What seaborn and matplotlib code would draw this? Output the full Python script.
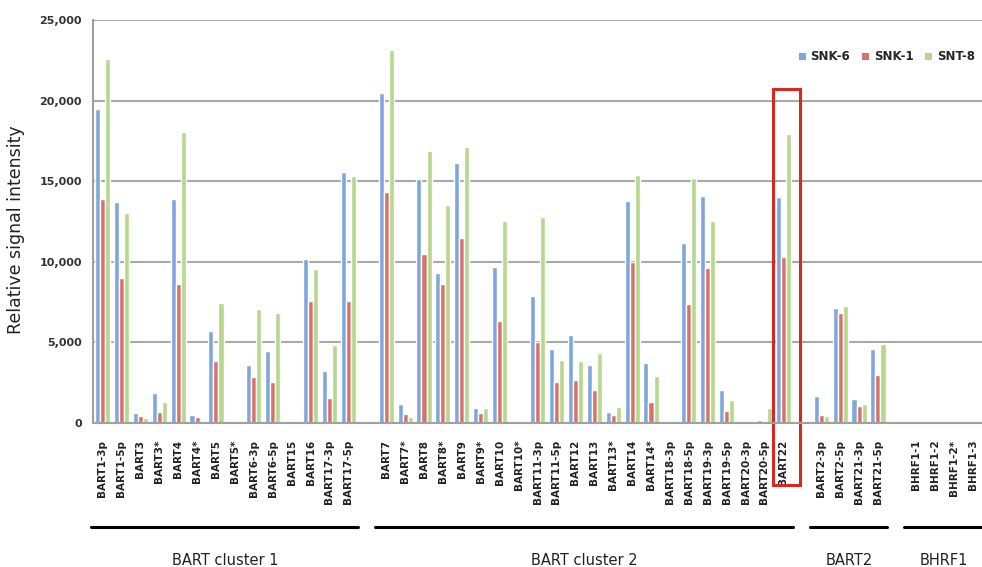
import matplotlib
matplotlib.use('Agg')
import matplotlib.pyplot as plt
import matplotlib.transforms as mtransforms
from matplotlib.patches import Rectangle, Patch
from matplotlib.lines import Line2D
from matplotlib.ticker import FuncFormatter
import seaborn as sns
import pandas as pd
import numpy as np

# miRNA names per group
cluster1 = ['BART1-3p', 'BART1-5p', 'BART3', 'BART3*', 'BART4', 'BART4*', 'BART5',
            'BART5*', 'BART6-3p', 'BART6-5p', 'BART15', 'BART16', 'BART17-3p', 'BART17-5p']
cluster2 = ['BART7', 'BART7*', 'BART8', 'BART8*', 'BART9', 'BART9*', 'BART10', 'BART10*',
            'BART11-3p', 'BART11-5p', 'BART12', 'BART13', 'BART13*', 'BART14', 'BART14*',
            'BART18-3p', 'BART18-5p', 'BART19-3p', 'BART19-5p', 'BART20-3p', 'BART20-5p', 'BART22']
bart2 = ['BART2-3p', 'BART2-5p', 'BART21-3p', 'BART21-5p']
bhrf1 = ['BHRF1-1', 'BHRF1-2', 'BHRF1-2*', 'BHRF1-3']

group_names = ['BART cluster 1', 'BART cluster 2', 'BART2', 'BHRF1']
lines = ['SNK-6', 'SNK-1', 'SNT-8']

# values (cluster1 + cluster2 + bart2 + bhrf1)
snk6 = [19500, 13700, 600, 1850, 13900, 500, 5700, 30, 3600, 4450, 100, 10150, 3250, 15600,
        20450, 1200, 15150, 9300, 16100, 950, 9700, 30, 7850, 4600, 5450, 3600, 700, 13800,
        3700, 30, 11150, 14100, 2050, 30, 200, 14000,
        1650, 7150, 1500, 4600,
        0, 0, 0, 0]
snk1 = [13900, 9000, 420, 700, 8600, 350, 3850, 20, 2850, 2550, 80, 7550, 1550, 7550,
        14350, 580, 10500, 8600, 11500, 600, 6300, 20, 5000, 2550, 2650, 2050, 480, 10000,
        1300, 20, 7400, 9600, 750, 20, 120, 10300,
        480, 6850, 1050, 3000,
        0, 0, 0, 0]
snt8 = [22600, 13050, 300, 1300, 18050, 150, 7450, 40, 7050, 6800, 120, 9550, 4850, 15350,
        23150, 370, 16900, 13500, 17150, 900, 12500, 40, 12800, 3900, 3850, 4350, 1000, 15400,
        2900, 40, 15200, 12500, 1450, 40, 950, 17950,
        450, 7250, 1200, 4900,
        0, 0, 0, 0]

colors = ['#7fa7dd', '#d9716a', '#b7d88c']

names = cluster1 + cluster2 + bart2 + bhrf1
df = pd.DataFrame({
    'miRNA': names * 3,
    'signal': snk6 + snk1 + snt8,
    'line': [l for l in lines for _ in names],
})

# empty slots between the groups
groups = [cluster1, cluster2, bart2, bhrf1]
order = []
for i, g in enumerate(groups):
    if i > 0:
        order.append(' ' * i)
    order.extend(g)

sns.set_style('white')
plt.rcParams['font.family'] = ['DejaVu Sans']

fig = plt.figure(figsize=(9.82, 5.67), dpi=100)
ax = fig.add_axes([93 / 982, 144 / 567, 889 / 982, 403 / 567])

sns.barplot(data=df, x='miRNA', y='signal', hue='line', order=order, hue_order=lines,
            palette=colors, width=0.8, saturation=1, errorbar=None, ax=ax)

ax.set_xlim(-0.5, len(order) - 0.5)
ax.set_ylim(0, 25000)
ax.set_yticks(np.arange(0, 25001, 5000))
ax.yaxis.set_major_formatter(FuncFormatter(lambda v, p: f'{int(v):,}'))
for t in ax.get_yticklabels():
    t.set_fontweight('bold')
ax.tick_params(axis='y', labelsize=8, colors='#333333', length=4, width=1, pad=4)
ax.tick_params(axis='y', color='#a0a0a0')
ax.yaxis.grid(True, color='#a9a9a9', lw=1.5)
ax.set_axisbelow(True)

ax.set_xticks(range(len(order)))
ax.set_xticklabels([n if n.strip() else '' for n in order], rotation=90,
                   fontsize=7.5, fontweight='bold', color='#222222')
ax.tick_params(axis='x', length=0, pad=12)
ax.set_xticks(np.arange(-0.5, len(order), 1), minor=True)
ax.tick_params(axis='x', which='minor', length=4, color='#a0a0a0', width=1)

for s in ['top', 'right']:
    ax.spines[s].set_visible(False)
for s in ['left', 'bottom']:
    ax.spines[s].set_color('#a0a0a0')
    ax.spines[s].set_linewidth(1.5)

ax.set_xlabel('')
ax.set_ylabel('Relative signal intensity', fontsize=12.5, color='#222222')
ax.yaxis.set_label_coords(-0.077, 0.48)

handles = [Patch(facecolor=c, edgecolor='none') for c in colors]
ax.legend(handles, lines, loc='center right', bbox_to_anchor=(1.0, 0.8995),
          bbox_transform=fig.transFigure, ncol=3, frameon=False,
          prop={'weight': 'bold', 'size': 8.5}, handlelength=0.6, handleheight=0.6,
          handletextpad=0.4, columnspacing=1.0, borderaxespad=0.2)

# group brackets under the axis
trans = mtransforms.blended_transform_factory(ax.transData, ax.transAxes)
for gname, g in zip(group_names, groups):
    first = order.index(g[0])
    last = order.index(g[-1])
    ax.add_line(Line2D([first - 0.6, last + 0.5], [-0.258, -0.258], transform=trans,
                       color='black', lw=2.2, clip_on=False))
    ax.text((first + last) / 2, -0.34, gname, transform=trans, ha='center', va='center',
            fontsize=10.5, color='#222222')

# highlight box around BART22
hi = order.index('BART22')
ax.add_patch(Rectangle((hi - 0.53, -0.154), 1.43, 0.983, transform=trans, fill=False,
                       edgecolor='#d42a20', lw=2.2, clip_on=False))

fig.savefig('out.png', dpi=100)
